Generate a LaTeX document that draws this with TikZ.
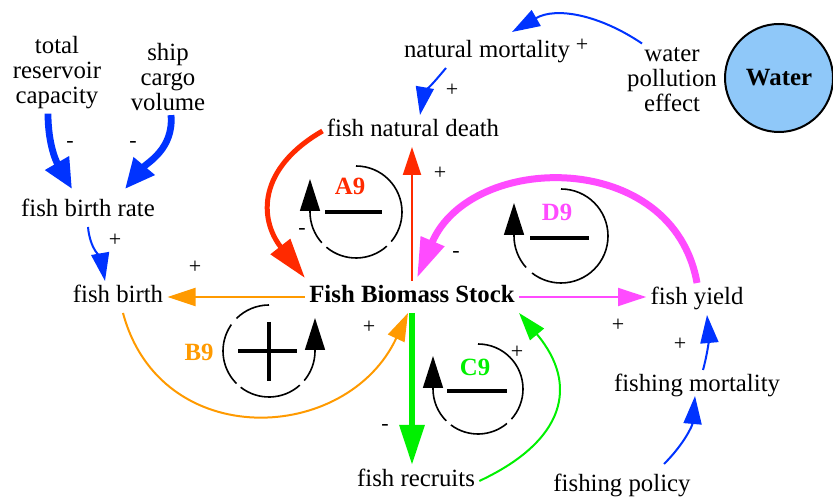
\documentclass[tikz,border=0pt]{standalone}
\usepackage{fontspec}
\setmainfont{Liberation Serif}
\usetikzlibrary{arrows.meta}
\definecolor{linkblue}{HTML}{0033FF}
\definecolor{linkred}{HTML}{FF2A00}
\definecolor{linkorange}{HTML}{FF9A00}
\definecolor{linkmagenta}{HTML}{FF4BFF}
\definecolor{linkgreen}{HTML}{00F000}
\definecolor{waterfill}{HTML}{8FC8F9}
\tikzset{
  var/.style={font=\fontsize{12.4}{12.5}\selectfont, align=center, inner sep=2pt},
  oneline/.style={var, text height=8.7pt, text depth=2.9pt},
  stock/.style={oneline, font=\fontsize{12.4}{12.5}\selectfont\bfseries},
  water/.style={circle, draw, line width=1pt, fill=waterfill, minimum size=54pt,
                inner sep=0pt, font=\fontsize{12.4}{12.5}\selectfont\bfseries},
  sign/.style={font=\fontsize{11}{11}\selectfont, inner sep=0pt},
  link/.style={-{Triangle[length=14pt,width=9pt]}, line width=1pt},
  heavylink/.style={-{Triangle[length=15pt,width=13pt]}, line width=3.4pt},
  longlink/.style={-{Triangle[length=20pt,width=12pt]}, line width=3pt},
  loopring/.style={line width=0.8pt},
  looptip/.style={loopring, -{Triangle[length=16pt,width=10pt]}},
  loopbar/.style={line width=2pt},
  looptag/.style={font=\fontsize{12.4}{12.5}\selectfont\bfseries, inner sep=0pt},
}
\begin{document}
\begin{tikzpicture}[x=0.5pt, y=0.5pt]
  \useasboundingbox (0,0) rectangle (833,497);

  \node[var] (trc) at (57,424) {total\\reservoir\\capacity};
  \node[var] (scv) at (168,420) {ship\\cargo\\volume};
  \node[oneline] (fbr) at (88,286) {fish birth rate};
  \node[oneline] (fb) at (118,200) {fish birth};
  \node[stock] (fbs) at (412,200) {Fish Biomass Stock};
  \node[oneline] (fnd) at (413,366) {fish natural death};
  \node[oneline] (nm) at (487,445) {natural mortality};
  \node[var] (wpe) at (672,417) {water\\pollution\\effect};
  \node[water] (wat) at (779,419) {Water};
  \node[oneline] (fy) at (697,198) {fish yield};
  \node[oneline] (fm) at (697,111) {fishing mortality};
  \node[oneline] (fp) at (622,11) {fishing policy};
  \node[oneline] (fr) at (416,16) {fish recruits};

  \draw[heavylink, linkblue] ([xshift=-4.5pt]trc.south) to[out=-90, in=120] ([xshift=-8pt,yshift=3pt]fbr.north);
  \draw[heavylink, linkblue] ([xshift=1.5pt]scv.south) to[out=-85, in=50] ([xshift=18.5pt,yshift=3pt]fbr.north);
  \draw[link, linkblue] (fbr.south) to[out=-85, in=100] ([xshift=-6.5pt]fb.north);
  \draw[link, linkorange] (fbs.west) -- (fb.east);
  \draw[link, linkorange] ([xshift=2.5pt]fb.south) to[out=-75, in=-115, looseness=1.3] ([xshift=-2pt]fbs.south);
  \draw[longlink, linkred, line width=2.5pt] (fnd.west) to[out=210, in=128, looseness=1.3] ([yshift=1.5pt]fbs.north west);
  \draw[link, linkred] (fbs.north) -- (fbs.north |- fnd.south);
  \draw[link, linkblue] ([xshift=-20.5pt]nm.south) to[out=-130, in=80] ([xshift=3.5pt]fnd.north);
  \draw[link, linkblue] ([xshift=-15pt]wpe.north) to[out=146, in=30] ([xshift=12.5pt,yshift=2pt]nm.north);
  \draw[longlink, linkmagenta, line width=3.5pt] (fy.north) to[out=100, in=67, looseness=1.25] ([xshift=2.5pt,yshift=1.5pt]fbs.north);
  \draw[link, linkmagenta] (fbs.east) -- (fbs.east -| fy.west);
  \draw[longlink, linkgreen] (fbs.south) -- (fbs.south |- fr.north);
  \draw[link, linkgreen] (fr.east) to[out=25, in=-50, looseness=1.4] (fbs.south east);
  \draw[link, linkblue] ([xshift=3pt]fm.north) to[out=75, in=-85] ([xshift=5pt]fy.south);
  \draw[link, linkblue] ([xshift=21pt,yshift=3pt]fp.north) to[out=45, in=-95] ([xshift=-1pt,yshift=3pt]fm.south);

  \node[sign] (s1) at (70,352) {-};
  \node[sign] (s2) at (133,352) {-};
  \node[sign] (s3) at (115,257) {+};
  \node[sign] (s4) at (195,230) {+};
  \node[sign] (s5) at (369,170) {+};
  \node[sign] (s6) at (302,265) {-};
  \node[sign] (s7) at (440,324) {+};
  \node[sign] (s8) at (452,407) {+};
  \node[sign] (s9) at (582,452) {+};
  \node[sign] (s10) at (456,242) {-};
  \node[sign] (s11) at (618,172) {+};
  \node[sign] (s12) at (385,70) {-};
  \node[sign] (s13) at (517,145) {+};
  \node[sign] (s14) at (680,153) {+};

  % A9
  \draw[loopring] (356,285) ++(90:46) arc[start angle=90, end angle=-40, radius=46];
  \draw[loopring] (356,285) ++(-48:46) arc[start angle=-48, end angle=-130, radius=46];
  \draw[looptip] (356,285) ++(-138:46) arc[start angle=-138, end angle=-180, radius=46] -- ++(0,33);
  \draw[loopbar] (325,285) -- (382,285);
  \node[looptag, linkred] (a9) at (350,311) {A9};
  % B9
  \draw[loopring] (269,146) ++(90:46) arc[start angle=90, end angle=135, radius=46];
  \draw[loopring] (269,146) ++(145:46) arc[start angle=145, end angle=225, radius=46];
  \draw[loopring] (269,146) ++(232:46) arc[start angle=232, end angle=312, radius=46];
  \draw[looptip] (269,146) ++(320:46) arc[start angle=320, end angle=360, radius=46] -- ++(0,33);
  \draw[loopbar] (238,146) -- (297,146) (269,175) -- (269,116);
  \node[looptag, linkorange] (b9) at (199,145) {B9};
  % C9
  \draw[loopring] (478,108) ++(90:45) arc[start angle=90, end angle=-42, radius=45];
  \draw[loopring] (478,108) ++(-50:45) arc[start angle=-50, end angle=-127, radius=45];
  \draw[looptip] (478,108) ++(-135:45) arc[start angle=-135, end angle=-180, radius=45] -- ++(0,33);
  \draw[loopbar] (447,106) -- (507,106);
  \node[looptag, linkgreen] (c9) at (475,130) {C9};
  % D9
  \draw[loopring] (561,261) ++(90:47) arc[start angle=90, end angle=-128, radius=47];
  \draw[looptip] (561,261) ++(-138:47) arc[start angle=-138, end angle=-180, radius=47] -- ++(0,33);
  \draw[loopbar] (530,259) -- (589,259);
  \node[looptag, linkmagenta] (d9) at (557,285) {D9};
\end{tikzpicture}
\end{document}
